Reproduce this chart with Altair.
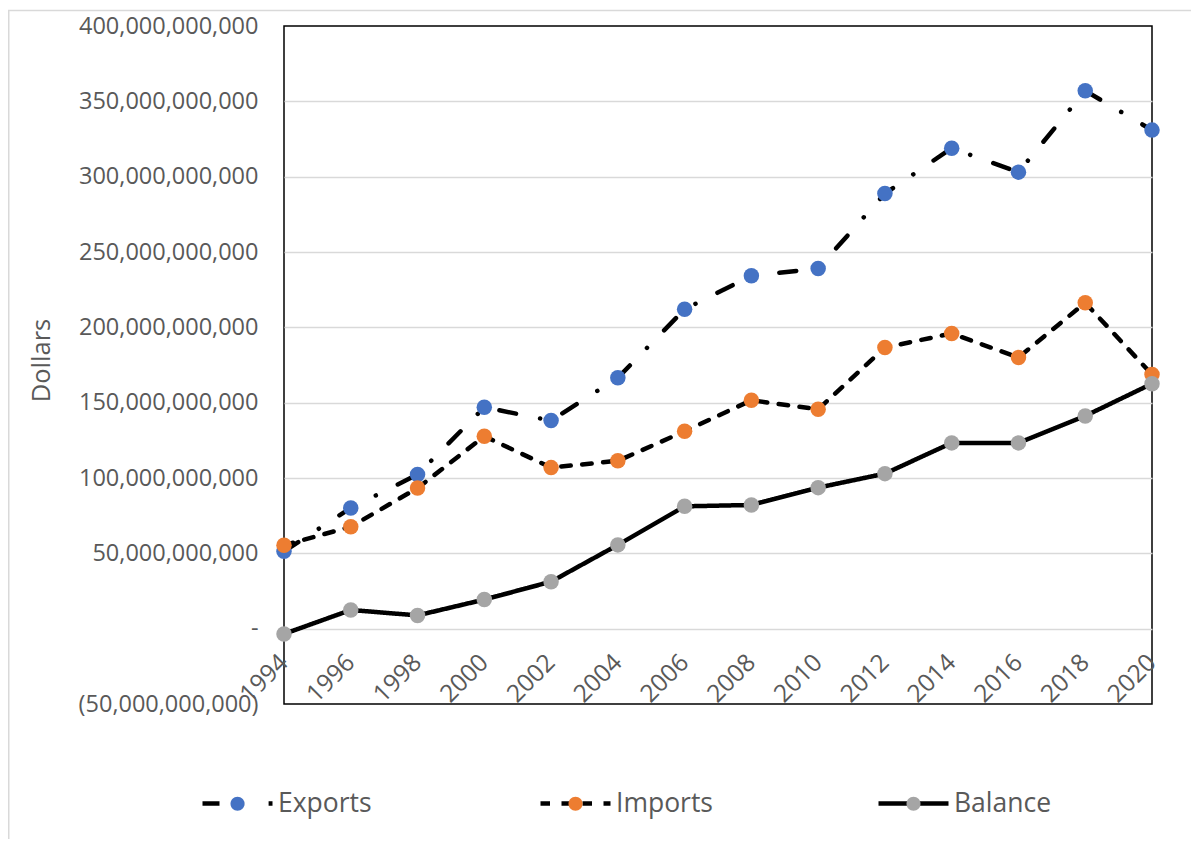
import altair as alt
import pandas as pd

# ---- data (in billions of dollars) ----
years = [1994, 1996, 1998, 2000, 2002, 2004, 2006, 2008, 2010, 2012, 2014, 2016, 2018, 2020]
exports_bn = [51.3, 80.1, 102.3, 146.9, 138.1, 166.5, 212.0, 234.2, 239.0, 288.8, 318.9, 303.0, 357.0, 330.9]
imports_bn = [55.3, 67.7, 93.3, 127.7, 106.9, 111.4, 131.0, 151.6, 145.6, 186.6, 195.9, 180.0, 216.3, 168.7]
balance_bn = [-3.5, 12.4, 8.8, 19.3, 31.2, 55.6, 81.2, 82.1, 93.6, 102.9, 123.3, 123.3, 141.2, 162.6]

series_names = ["Exports", "Imports", "Balance"]
series_colors = ["#4472C4", "#ED7D31", "#A5A5A5"]
series_dashes = [[17, 24.5, 0.1, 24.5], [9.5, 11.5], [1, 0]]
y_ticks = [v * 1e9 for v in [-50, 0, 50, 100, 150, 200, 250, 300, 350, 400]]

rows = []
for name, vals in zip(series_names, [exports_bn, imports_bn, balance_bn]):
    for yr, v in zip(years, vals):
        rows.append({"Year": yr, "Series": name, "Key": name + "|pt", "Dollars": v * 1e9})
df = pd.DataFrame(rows)
point_keys = [n + "|pt" for n in series_names]

FONT = "Open Sans"
TEXT = "#595959"
FS = 23.5
GRID = "#d9d9d9"
NB = "\u00a0"

label_expr = (
    "datum.value == 0 ? '-" + NB * 3 + "' : (datum.value < 0 ? '(' + format(-datum.value, ',.0f') + ')'"
    " : format(datum.value, ',.0f') + '" + NB + "')"
)

x_enc = alt.X(
    "Year:Q",
    scale=alt.Scale(domain=[1994, 2020], nice=False, zero=False),
    axis=alt.Axis(
        values=years, format="d", title=None, grid=False, domain=False, ticks=False,
        labelAngle=-45, labelAlign="right", labelBaseline="middle",
        labelPadding=30, labelOffset=0, offset=-75.33,
        labelFont=FONT, labelFontSize=24.5, labelColor=TEXT,
        labelOverlap=False, labelFlush=False, labelLimit=300,
    ),
)
y_enc = alt.Y(
    "Dollars:Q",
    scale=alt.Scale(domain=[-50e9, 400e9], nice=False, zero=False),
    axis=alt.Axis(
        values=y_ticks, title="Dollars", domain=False, ticks=False, grid=True,
        gridColor={"condition": {"test": "datum.value >= 400e9 || datum.value <= -50e9", "value": "transparent"}, "value": GRID},
        gridWidth=1.3,
        labelExpr=label_expr, labelPadding=26, labelLimit=300,
        labelFont=FONT, labelFontSize=FS, labelColor=TEXT,
        titleX=-235, titleY=334, titleAngle=270, titleBaseline="alphabetic", titleAlign="center",
        titleFont=FONT, titleFontSize=25.5, titleColor=TEXT, titleFontWeight="normal",
    ),
)

legend_common = dict(
    title=None, orient="none", legendX=-84, legendY=740, direction="horizontal",
    columns=3, gridAlign="all", columnPadding=155, padding=0,
    symbolSize=4900, symbolStrokeWidth=4.5,
    labelFont=FONT, labelFontSize=26.5, labelColor=TEXT, labelOffset=3, labelLimit=300,
)

lines = alt.Chart(df).mark_line(
    color="black", strokeWidth=4.5, strokeCap="round", strokeJoin="round"
).encode(
    x=x_enc,
    y=y_enc,
    strokeDash=alt.StrokeDash(
        "Series:N",
        scale=alt.Scale(domain=series_names, range=series_dashes),
        legend=alt.Legend(
            symbolType="stroke", symbolStrokeColor="black", zindex=1,
            **legend_common,
        ),
    ),
)

CIRCLE_PATH = "M-1,0M1,0M0.2,0A0.2,0.2,0,1,1,-0.2,0A0.2,0.2,0,1,1,0.2,0Z"

points = alt.Chart(df).mark_point(filled=True, size=240, opacity=1).encode(
    x=x_enc,
    y=y_enc,
    color=alt.Color(
        "Key:N",
        scale=alt.Scale(domain=point_keys, range=series_colors),
        legend=alt.Legend(
            symbolType=CIRCLE_PATH, symbolStrokeColor="transparent", symbolOpacity=1,
            labelOpacity=0, zindex=2, labelExpr="replace(datum.label, '|pt', '')",
            **legend_common,
        ),
    ),
)

deco = alt.Data(values=[{"k": 1}])
left_border = alt.Chart(deco).mark_rule(color=GRID, strokeWidth=1.5).encode(
    x=alt.value(-275.25), y=alt.value(-15.5), y2=alt.value(813)
)
top_border = alt.Chart(deco).mark_rule(color=GRID, strokeWidth=1.5).encode(
    x=alt.value(-276), x2=alt.value(907), y=alt.value(-15.5)
)

chart = alt.layer(left_border, top_border, lines, points).properties(
    width=868,
    height=678,
    padding={"left": 276, "top": 18, "right": 39, "bottom": 135},
    autosize=alt.AutoSizeParams(type="none"),
).configure(font=FONT).configure_view(
    stroke="black", strokeWidth=1.5
).configure_axis(
    titleFontSize=25.5, titleFont=FONT, titleColor=TEXT, titleFontWeight="normal"
)

chart.save("out.html", embed_options={"renderer": "svg", "actions": False})
